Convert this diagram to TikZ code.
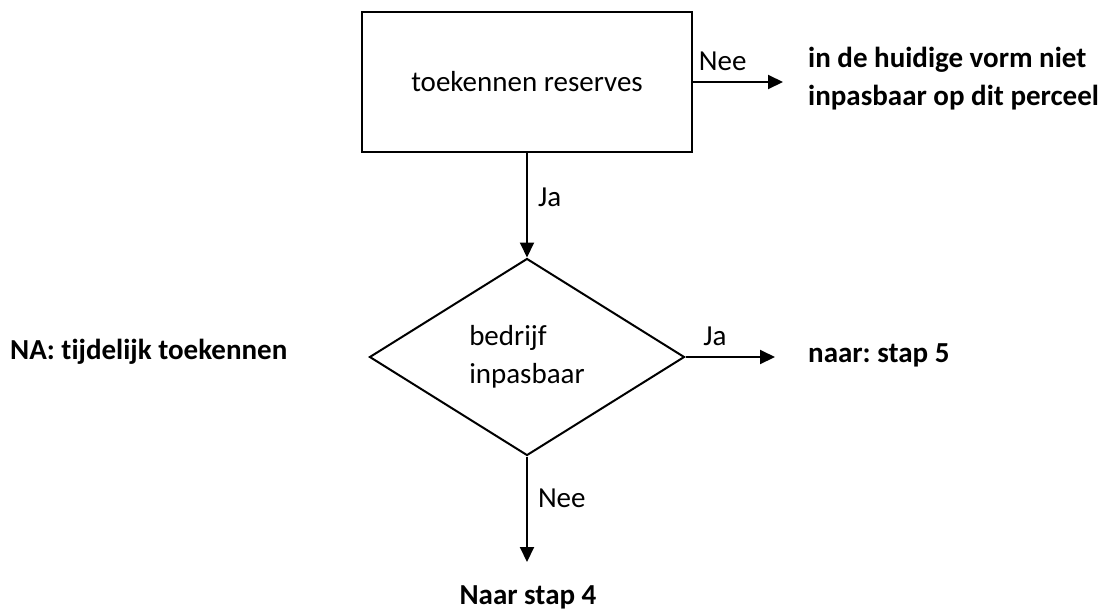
\documentclass[tikz,border=0pt]{standalone}
\usepackage{fontspec}
\setmainfont{Carlito}[Ligatures=NoCommon]
\usetikzlibrary{arrows.meta,shapes.geometric}

\begin{document}
\frenchspacing
\begin{tikzpicture}[x=1pt,y=-1pt,
        every node/.style={font=\fontsize{29}{38}\selectfont,inner sep=10pt},
        pijl/.style={-{Triangle[length=15pt,width=14pt]},line width=2pt},
        vet/.style={font=\fontsize{29}{38}\selectfont\bfseries}]
        \useasboundingbox (0,0) rectangle (1106,611);
        \node[shape=rectangle,draw=black,line width=2pt,minimum width=330pt,minimum height=140pt] (R) at (527,82) {toekennen reserves};
        \node[shape=diamond,draw=black,line width=2pt,minimum width=315pt,minimum height=197pt,inner sep=0pt,align=left] (D) at (527,357) {bedrijf\\inpasbaar};
        \node[vet,anchor=west,align=left] (N1) at (798,79) {in de huidige vorm niet\\inpasbaar op dit perceel};
        \node[vet,anchor=west] (N2) at (798,355) {naar: stap 5};
        \node[vet,anchor=west] (N3) at (0,352) {NA: tijdelijk toekennen};
        \node[vet] (N4) at (528,597) {Naar stap 4};
        \coordinate (Rn) at (783,82);
        \coordinate (Dj) at (775,357);
        \coordinate (Dn) at (527,562);
        \path [pijl] (R) edge node[right,pos=0.42]{Ja} (D);
        \path [pijl] (R.east) edge node[above,pos=0.33]{Nee} (Rn);
        \path [pijl] (D.east) edge node[above,pos=0.33]{Ja} (Dj);
        \path [pijl] (D.south) edge node[right,pos=0.4]{Nee} (Dn);
    \end{tikzpicture}
\end{document}
